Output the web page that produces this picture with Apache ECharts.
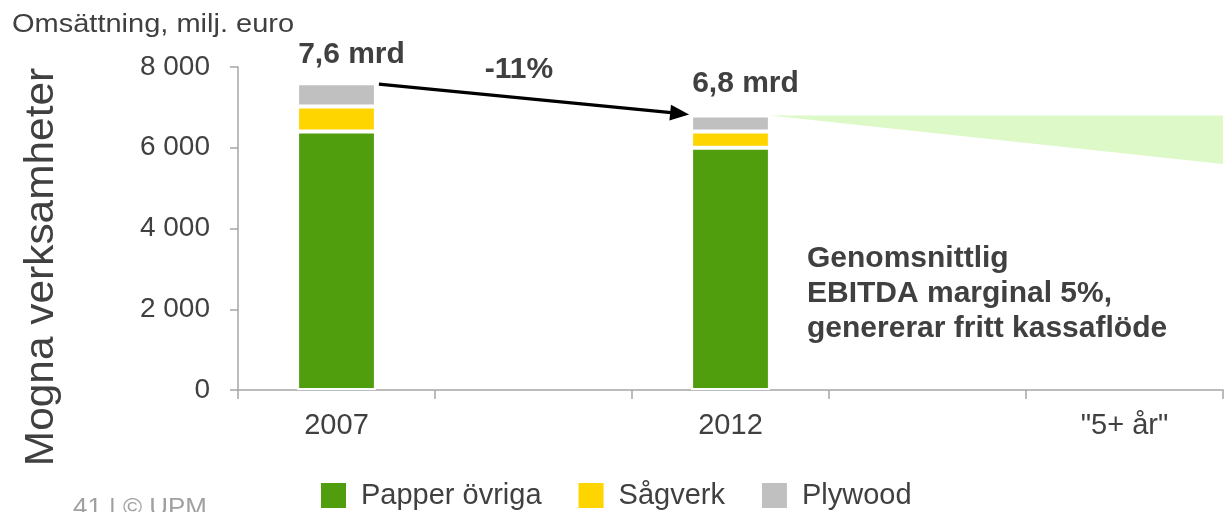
<!DOCTYPE html>
<html>
<head>
<meta charset="utf-8">
<script src="https://cdn.jsdelivr.net/npm/echarts@6/dist/echarts.min.js"></script>
<style>
  html, body { margin: 0; padding: 0; background: #fff; }
  #chart { width: 1224px; height: 512px; }
</style>
</head>
<body>
<div id="chart"></div>
<script>
// Omsättning per affärsområde, milj. euro
const categories = ['2007', '', '2012', '', '"5+ år"'];
const papperOvriga = [6400, null, 6000, null, null];
const sagverk = [620, null, 400, null, null];
const plywood = [580, null, 400, null, null];
// Utsikt efter 2012: övre och nedre gräns vid "5+ år"
const outlookTop = 6800;
const outlookLow = 5600;
const yTicks = { min: 0, max: 8000, interval: 2000 };

const FONT = "'Liberation Sans', Arial, sans-serif";
const TEXT = '#404040';
const AXIS = '#a6a6a6';
const BAR_RATIO = 0.40;

const totals = categories.map((_, i) =>
  (papperOvriga[i] || 0) + (sagverk[i] || 0) + (plywood[i] || 0));
const iFrom = 0, iTo = 2;
const changePct = Math.round((totals[iTo] / totals[iFrom] - 1) * 100);
const mrd = v => (v / 1000).toFixed(1).replace('.', ',') + ' mrd';
const thousands = v => String(v).replace(/\B(?=(\d{3})+(?!\d))/g, ' ');

const barBase = {
  type: 'bar',
  stack: 'oms',
  barWidth: (BAR_RATIO * 100) + '%',
  itemStyle: { borderColor: '#fff', borderWidth: 2 },
  silent: true
};

const topLabelDistance = [13, null, 17, null, null];

const chart = echarts.init(document.getElementById('chart'), null, { renderer: 'canvas' });

chart.setOption({
  animation: false,
  textStyle: { fontFamily: FONT },
  grid: { left: 238, right: 1, top: 67, bottom: 122, containLabel: false },
  xAxis: {
    type: 'category',
    data: categories,
    boundaryGap: true,
    axisLine: { lineStyle: { color: AXIS, width: 1.5 } },
    axisTick: { show: true, length: 9, lineStyle: { color: AXIS, width: 1.5 } },
    axisLabel: { fontSize: 29, color: TEXT, margin: 21, fontFamily: FONT }
  },
  yAxis: {
    type: 'value',
    min: yTicks.min, max: yTicks.max, interval: yTicks.interval,
    axisLine: { show: true, lineStyle: { color: AXIS, width: 1.5 } },
    axisTick: { show: true, length: 8, lineStyle: { color: AXIS, width: 1.5 } },
    splitLine: { show: false },
    axisLabel: { fontSize: 28, color: TEXT, margin: 28, fontFamily: FONT, formatter: thousands }
  },
  legend: {
    data: ['Papper övriga', 'Sågverk', 'Plywood'],
    left: 314, top: 476,
    icon: 'rect',
    itemWidth: 27, itemHeight: 27,
    itemGap: 35,
    selectedMode: false,
    textStyle: { fontSize: 29, color: TEXT, fontFamily: FONT, padding: [0, 0, 0, 9] }
  },
  graphic: [
    {
      type: 'text', x: 12, y: 13, scaleX: 1.16,
      style: { text: 'Omsättning, milj. euro', font: '25px ' + FONT, fill: TEXT, align: 'left', verticalAlign: 'top' }
    },
    {
      type: 'text', x: 42, y: 267, rotation: Math.PI / 2, scaleX: 1.06,
      style: { text: 'Mogna verksamheter', font: '40px ' + FONT, fill: TEXT, align: 'center', verticalAlign: 'middle' }
    },
    {
      type: 'text', x: 807, y: 241,
      style: {
        text: 'Genomsnittlig\nEBITDA marginal 5%,\ngenererar fritt kassaflöde',
        font: 'bold 30px ' + FONT, lineHeight: 35, fill: TEXT, align: 'left', verticalAlign: 'top'
      }
    },
    {
      type: 'text', x: 73, y: 496, scaleX: 1.08,
      style: { text: '41 | © UPM', font: '24px ' + FONT, fill: '#a0a0a0', align: 'left', verticalAlign: 'top' }
    }
  ],
  series: [
    {
      // Förväntat intervall efter 2012
      type: 'custom',
      name: 'utsikt',
      silent: true,
      z: 1,
      data: [[iTo, outlookTop, outlookLow]],
      renderItem: function (params, api) {
        const band = api.size([1, 0])[0];
        const start = api.coord([api.value(0), api.value(1)]);
        const xs = start[0] + band * BAR_RATIO / 2;
        const xe = api.coord([categories.length - 1, 0])[0] + band / 2;
        const yTop = start[1];
        const yLow = api.coord([0, api.value(2)])[1];
        return {
          type: 'polygon',
          shape: { points: [[xs, yTop], [xe, yTop], [xe, yLow]] },
          style: { fill: '#ddf9c8' }
        };
      }
    },
    Object.assign({}, barBase, {
      name: 'Papper övriga', data: papperOvriga, itemStyle: Object.assign({}, barBase.itemStyle, { color: '#509e0e' })
    }),
    Object.assign({}, barBase, {
      name: 'Sågverk', data: sagverk, itemStyle: Object.assign({}, barBase.itemStyle, { color: '#ffd500' })
    }),
    Object.assign({}, barBase, {
      name: 'Plywood',
      itemStyle: Object.assign({}, barBase.itemStyle, { color: '#c0c0c0' }),
      data: plywood.map((v, i) => v == null ? v : {
        value: v,
        label: {
          show: true, position: 'top', distance: topLabelDistance[i], offset: [15, 0],
          formatter: () => mrd(totals[i]),
          fontSize: 30, fontWeight: 'bold', color: TEXT, fontFamily: FONT
        }
      })
    }),
    {
      // Pil mellan staplarna med procentuell förändring
      type: 'custom',
      name: 'förändring',
      silent: true,
      z: 5,
      data: [[iFrom, totals[iFrom], iTo, totals[iTo]]],
      renderItem: function (params, api) {
        const half = api.size([1, 0])[0] * BAR_RATIO / 2;
        const a = api.coord([api.value(0), api.value(1)]);
        const b = api.coord([api.value(2), api.value(3)]);
        const x0 = a[0] + half + 3, y0 = a[1] + 1;
        const x1 = b[0] - half - 2, y1 = b[1] - 1;
        const dx = x1 - x0, dy = y1 - y0;
        const len = Math.sqrt(dx * dx + dy * dy);
        const ux = dx / len, uy = dy / len;
        const headLen = 19, headHalf = 8;
        const bx = x1 - ux * headLen, by = y1 - uy * headLen;
        return {
          type: 'group',
          children: [
            {
              type: 'line',
              shape: { x1: x0, y1: y0, x2: bx + ux, y2: by + uy },
              style: { stroke: '#000', lineWidth: 3.2 }
            },
            {
              type: 'polygon',
              shape: { points: [[x1, y1], [bx - uy * headHalf, by + ux * headHalf], [bx + uy * headHalf, by - ux * headHalf]] },
              style: { fill: '#000' }
            },
            {
              type: 'text',
              x: (x0 + x1) / 2 - 15, y: (y0 + y1) / 2 - 30,
              style: {
                text: (changePct > 0 ? '+' : '') + changePct + '%',
                font: 'bold 30px ' + FONT, fill: TEXT, align: 'center', verticalAlign: 'middle'
              }
            }
          ]
        };
      }
    }
  ]
});
</script>
</body>
</html>
